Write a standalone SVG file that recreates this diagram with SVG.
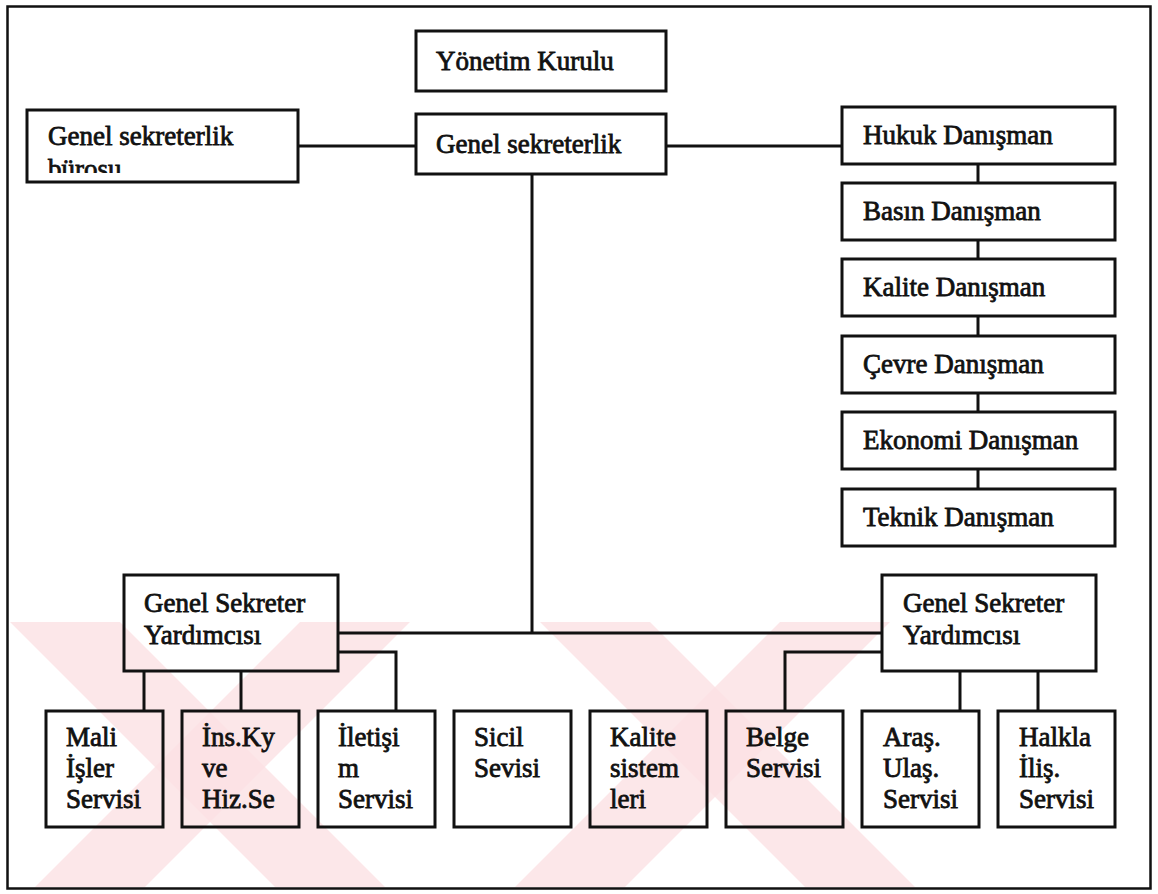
<svg xmlns="http://www.w3.org/2000/svg" width="1158" height="894" viewBox="0 0 1158 894">
  <defs>
    <style>
      .box { fill: none; stroke: #111; stroke-width: 3; }
      .ln { fill: none; stroke: #111; stroke-width: 3; }
      .t { font-family: "Liberation Serif", "Times New Roman", serif; font-size: 27px; fill: #111; stroke: #111; stroke-width: 0.8; }
      .wm { fill: #fbe1e4; opacity: 0.8; }
    </style>
    <clipPath id="wmClip">
      <rect x="9" y="622" width="1140" height="265"/>
    </clipPath>
    <clipPath id="buroClip">
      <rect x="30" y="112" width="266" height="61"/>
    </clipPath>
  </defs>

  <rect width="1158" height="894" fill="#fff"/>

  <!-- background watermark bands -->
  <g id="watermark" clip-path="url(#wmClip)">
    <polygon class="wm" points="10,622 120,622 386,888 276,888"/>
    <polygon class="wm" points="300,622 410,622 144,888 34,888"/>
    <polygon class="wm" points="540,622 650,622 916,888 806,888"/>
    <polygon class="wm" points="780,622 890,622 624,888 514,888"/>
  </g>

  <!-- outer frame -->
  <rect x="7.5" y="6.5" width="1143" height="882" fill="none" stroke="#111" stroke-width="2.5"/>

  <!-- connectors -->
  <g id="connectors">
    <path class="ln" d="M298,146 H416"/>
    <path class="ln" d="M666,146 H842"/>
    <path class="ln" d="M532,174 V633"/>
    <path class="ln" d="M338,633 H882"/>
    <path class="ln" d="M338,652 H396 V711"/>
    <path class="ln" d="M882,652 H785 V711"/>
    <path class="ln" d="M144,671 V711"/>
    <path class="ln" d="M241,671 V711"/>
    <path class="ln" d="M960,671 V711"/>
    <path class="ln" d="M1038,671 V711"/>
    <path class="ln" d="M978,164 V183"/>
    <path class="ln" d="M978,240 V259"/>
    <path class="ln" d="M978,316 V336"/>
    <path class="ln" d="M978,393 V412"/>
    <path class="ln" d="M978,469 V489"/>
  </g>

  <!-- top level -->
  <g id="yonetim-kurulu">
    <rect class="box" x="416" y="31" width="250" height="60"/>
    <text class="t" x="436" y="70">Yönetim Kurulu</text>
  </g>
  <g id="genel-sekreterlik">
    <rect class="box" x="416" y="114" width="250" height="60"/>
    <text class="t" x="436" y="153">Genel sekreterlik</text>
  </g>
  <g id="genel-sekreterlik-burosu">
    <rect class="box" x="27" y="110" width="271" height="72"/>
    <text class="t" x="48" y="145">Genel sekreterlik</text>
    <text class="t" x="48" y="178" clip-path="url(#buroClip)">bürosu</text>
  </g>

  <!-- advisors column -->
  <g id="hukuk-danisman">
    <rect class="box" x="842" y="107" width="273" height="57"/>
    <text class="t" x="863" y="144">Hukuk Danışman</text>
  </g>
  <g id="basin-danisman">
    <rect class="box" x="842" y="183" width="273" height="57"/>
    <text class="t" x="863" y="220">Basın Danışman</text>
  </g>
  <g id="kalite-danisman">
    <rect class="box" x="842" y="259" width="273" height="57"/>
    <text class="t" x="863" y="296">Kalite Danışman</text>
  </g>
  <g id="cevre-danisman">
    <rect class="box" x="842" y="336" width="273" height="57"/>
    <text class="t" x="863" y="373">Çevre Danışman</text>
  </g>
  <g id="ekonomi-danisman">
    <rect class="box" x="842" y="412" width="273" height="57"/>
    <text class="t" x="863" y="449">Ekonomi Danışman</text>
  </g>
  <g id="teknik-danisman">
    <rect class="box" x="842" y="489" width="273" height="57"/>
    <text class="t" x="863" y="526">Teknik Danışman</text>
  </g>

  <!-- deputies -->
  <g id="yardimci-sol">
    <rect class="box" x="124" y="575" width="214" height="96"/>
    <text class="t" x="144" y="612">Genel Sekreter</text>
    <text class="t" x="144" y="644">Yardımcısı</text>
  </g>
  <g id="yardimci-sag">
    <rect class="box" x="882" y="575" width="214" height="96"/>
    <text class="t" x="903" y="612">Genel Sekreter</text>
    <text class="t" x="903" y="644">Yardımcısı</text>
  </g>

  <!-- services -->
  <g id="mali-isler">
    <rect class="box" x="46" y="711" width="117" height="116"/>
    <text class="t" x="66" y="746">Mali</text>
    <text class="t" x="66" y="777">İşler</text>
    <text class="t" x="66" y="808">Servisi</text>
  </g>
  <g id="ins-ky">
    <rect class="box" x="182" y="711" width="117" height="116"/>
    <text class="t" x="202" y="746">İns.Ky</text>
    <text class="t" x="202" y="777">ve</text>
    <text class="t" x="202" y="808">Hiz.Se</text>
  </g>
  <g id="iletisim">
    <rect class="box" x="318" y="711" width="117" height="116"/>
    <text class="t" x="338" y="746">İletişi</text>
    <text class="t" x="338" y="777">m</text>
    <text class="t" x="338" y="808">Servisi</text>
  </g>
  <g id="sicil">
    <rect class="box" x="454" y="711" width="117" height="116"/>
    <text class="t" x="474" y="746">Sicil</text>
    <text class="t" x="474" y="777">Sevisi</text>
  </g>
  <g id="kalite-sistemleri">
    <rect class="box" x="590" y="711" width="117" height="116"/>
    <text class="t" x="610" y="746">Kalite</text>
    <text class="t" x="610" y="777">sistem</text>
    <text class="t" x="610" y="808">leri</text>
  </g>
  <g id="belge">
    <rect class="box" x="726" y="711" width="117" height="116"/>
    <text class="t" x="746" y="746">Belge</text>
    <text class="t" x="746" y="777">Servisi</text>
  </g>
  <g id="aras-ulas">
    <rect class="box" x="862" y="711" width="117" height="116"/>
    <text class="t" x="883" y="746">Araş.</text>
    <text class="t" x="883" y="777">Ulaş.</text>
    <text class="t" x="883" y="808">Servisi</text>
  </g>
  <g id="halkla-iliskiler">
    <rect class="box" x="998" y="711" width="117" height="116"/>
    <text class="t" x="1019" y="746">Halkla</text>
    <text class="t" x="1019" y="777">İliş.</text>
    <text class="t" x="1019" y="808">Servisi</text>
  </g>
</svg>
